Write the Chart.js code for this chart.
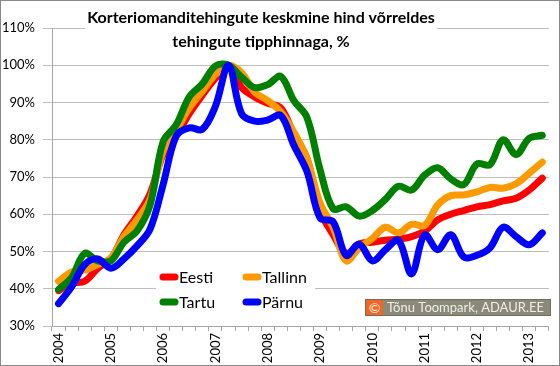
<!DOCTYPE html>
<html>
<head>
<meta charset="utf-8">
<title>Korteriomanditehingute keskmine hind</title>
<script src="https://cdn.jsdelivr.net/npm/chart.js@4.4.1/dist/chart.umd.min.js"></script>
<style>
    html, body { margin: 0; padding: 0; background: #fff; }
    #wrap { width: 560px; height: 366px; }
</style>
</head>
<body>
<div id="wrap"><canvas id="priceChart" width="560" height="366"></canvas></div>
<script>
// ========================================
// DATA - share of peak transaction price, %
// ========================================

const quarters = [
    '2004 Q1', '2004 Q2', '2004 Q3', '2004 Q4',
    '2005 Q1', '2005 Q2', '2005 Q3', '2005 Q4',
    '2006 Q1', '2006 Q2', '2006 Q3', '2006 Q4',
    '2007 Q1', '2007 Q2', '2007 Q3', '2007 Q4',
    '2008 Q1', '2008 Q2', '2008 Q3', '2008 Q4',
    '2009 Q1', '2009 Q2', '2009 Q3', '2009 Q4',
    '2010 Q1', '2010 Q2', '2010 Q3', '2010 Q4',
    '2011 Q1', '2011 Q2', '2011 Q3', '2011 Q4',
    '2012 Q1', '2012 Q2', '2012 Q3', '2012 Q4',
    '2013 Q1', '2013 Q2'
];

const eesti = [39.5, 41.5, 42, 45.5, 48, 54.5, 59.5, 65.5, 76, 81, 87, 92, 96.5, 100, 94, 91.5, 89.8, 88.5, 81.5, 75,
    61, 54.5, 49.5, 52, 52.5, 53, 53.3, 54, 55.5, 58.5, 60, 61, 62, 62.6, 63.6, 64.3, 66.5, 69.7];
const tallinn = [42, 44.5, 45, 46.5, 48.3, 54, 58.5, 64, 77, 82.5, 88.5, 93, 97.5, 100, 98, 92.8, 90.5, 87.5, 82, 75,
    63, 56.5, 47.5, 51, 53.5, 56.5, 55, 57.3, 57, 62.5, 65, 65.2, 66, 67.2, 67, 68.2, 71, 74];
const tartu = [39.8, 43, 49.5, 47.5, 47.5, 52.5, 55.5, 62.5, 79.5, 84, 91.5, 95, 99.8, 100, 96.8, 94, 94.8, 97, 90.5, 86,
    72, 61.5, 62, 59.5, 61, 64, 67.5, 66.5, 70.5, 72.5, 69.5, 68, 73.5, 73.3, 80, 76, 80.4, 81.2];
const parnu = [36, 40.5, 46.5, 48, 45.5, 48, 51.5, 56, 68, 81, 83.2, 82.8, 89, 100, 87, 85, 85.3, 86.5, 78.5, 71.5,
    59, 58, 49, 52, 47.5, 50.5, 53, 44, 54.5, 50.5, 54.5, 48.5, 49, 51, 56.5, 54, 51.8, 55];

const seriesNames = ['Eesti', 'Tallinn', 'Tartu', 'Pärnu'];
const seriesColors = ['#ff0000', '#ff9900', '#008000', '#0000ff'];

const titleLines = ['Korteriomanditehingute keskmine hind võrreldes', 'tehingute tipphinnaga, %'];
const creditText = 'Tõnu Toompark, ADAUR.EE';

// ========================================
// PLUGINS
// ========================================

/**
 * Title sits over the top of the plot on a white box (like the Excel original)
 */
const overlayTitle = {
    id: 'overlayTitle',
    beforeDatasetsDraw(chart) {
        const ctx = chart.ctx;
        ctx.save();
        ctx.fillStyle = '#ffffff';
        ctx.fillRect(85, 4, 352, 48);
        ctx.fillStyle = '#000000';
        ctx.font = 'bold 16px Lato';
        ctx.textAlign = 'center';
        ctx.textBaseline = 'middle';
        ctx.fillText(titleLines[0], 261, 18);
        ctx.fillText(titleLines[1], 261, 42);
        ctx.restore();
    }
};

/**
 * Legend inside the plot, two columns, thick line symbols
 */
const innerLegend = {
    id: 'innerLegend',
    afterDatasetsDraw(chart) {
        const ctx = chart.ctx;
        const slots = [[160, 277], [243, 277], [160, 302], [243, 302]];
        ctx.save();
        ctx.fillStyle = '#ffffff';
        ctx.fillRect(156, 263, 159, 52);
        ctx.font = '16px Lato';
        ctx.textBaseline = 'middle';
        chart.data.datasets.forEach((ds, i) => {
            const [x, y] = slots[i];
            ctx.strokeStyle = ds.borderColor;
            ctx.lineWidth = 7;
            ctx.lineCap = 'round';
            ctx.beginPath();
            ctx.moveTo(x + 3, y);
            ctx.lineTo(x + 15, y);
            ctx.stroke();
            ctx.fillStyle = '#000000';
            ctx.fillText(ds.label, x + 19, y + 1);
        });
        ctx.restore();
    }
};

/**
 * Credit badge bottom right + outer frame
 */
const creditAndFrame = {
    id: 'creditAndFrame',
    afterDraw(chart) {
        const ctx = chart.ctx;
        ctx.save();
        ctx.fillStyle = '#8b8a79';
        ctx.fillRect(365, 299, 186, 17);
        ctx.strokeStyle = '#6e6d60';
        ctx.lineWidth = 1;
        ctx.strokeRect(365.5, 299.5, 185, 16);
        ctx.fillStyle = '#f26522';
        ctx.fillRect(366, 300, 17, 15);
        ctx.fillStyle = '#ffffff';
        ctx.font = '14px Lato';
        ctx.textBaseline = 'middle';
        ctx.textAlign = 'center';
        ctx.fillText('©', 374.5, 308);
        ctx.fillStyle = '#efefe8';
        ctx.font = '13px Lato';
        ctx.textAlign = 'left';
        ctx.fillText(creditText, 387, 308);

        ctx.strokeStyle = '#888888';
        ctx.strokeRect(0.5, 0.5, 559, 365);
        ctx.restore();
    }
};

// ========================================
// CHART
// ========================================

Chart.defaults.font.family = 'Lato';
Chart.defaults.color = '#000000';

const seriesValues = [eesti, tallinn, tartu, parnu];

new Chart(document.getElementById('priceChart'), {
    type: 'line',
    data: {
        labels: quarters,
        datasets: seriesValues.map((values, i) => ({
            label: seriesNames[i],
            data: values,
            borderColor: seriesColors[i],
            backgroundColor: seriesColors[i],
            borderWidth: 7,
            borderCapStyle: 'round',
            borderJoinStyle: 'round',
            pointRadius: 0,
            tension: 0.35,
            fill: false,
            order: seriesValues.length - i
        }))
    },
    options: {
        responsive: false,
        animation: false,
        devicePixelRatio: 1,
        layout: { padding: { top: 28, right: 9, left: 0, bottom: 0 } },
        plugins: {
            legend: { display: false },
            title: { display: false },
            tooltip: { enabled: false }
        },
        scales: {
            x: {
                offset: true,
                grid: {
                    offset: true,
                    drawOnChartArea: false,
                    tickLength: 5,
                    color: '#a6a6a6'
                },
                border: { color: '#a6a6a6' },
                ticks: {
                    autoSkip: false,
                    maxRotation: 90,
                    minRotation: 90,
                    padding: 2,
                    font: { size: 13 },
                    callback: function(value) {
                        const label = this.getLabelForValue(value);
                        return label.endsWith('Q1') ? label.slice(0, 4) : '';
                    }
                },
                afterFit: function(scale) { scale.height = 40; }
            },
            y: {
                min: 30,
                max: 110,
                grid: { color: '#bdbdbd', tickLength: 9 },
                border: { color: '#a6a6a6' },
                ticks: {
                    stepSize: 10,
                    padding: 8,
                    font: { size: 13 },
                    callback: v => v + '%'
                },
                afterFit: function(scale) { scale.width = 52; }
            }
        }
    },
    plugins: [overlayTitle, innerLegend, creditAndFrame]
});
</script>
</body>
</html>
